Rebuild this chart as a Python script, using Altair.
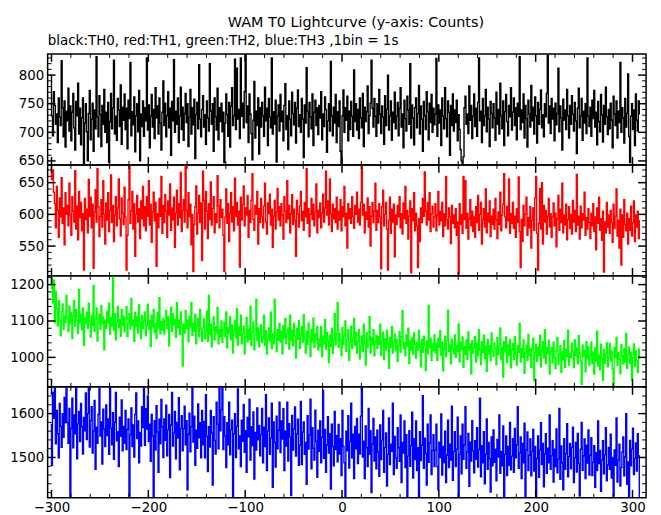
import altair as alt
import pandas as pd

# time axis (s): first bin start, 1 bin = 1 s
T_START = -301
X_DOMAIN = [-304, 314]
X_MAJOR = [-300, -200, -100, 0, 100, 200, 300]
X_MINOR = [v for v in range(-300, 301, 20) if v % 100 != 0]

TH0 = [
    800, 729, 694, 771, 747, 714, 732, 682, 760, 727, 712, 825, 743, 692, 755, 674, 737,
    720, 777, 702, 746, 685, 735, 768, 708, 669, 754, 729, 786, 697, 742, 678, 725, 760, 646, 716, 750,
    701, 650, 733, 773, 687, 723, 751, 667, 739, 706, 832, 727, 692, 764, 731, 675, 747, 714, 775, 700,
    735, 682, 752, 647, 719, 768, 706, 743, 826, 697, 728, 686, 759, 739, 710, 783, 679, 744, 721, 767,
    705, 742, 671, 756, 724, 822, 694, 736, 713, 762, 666, 729, 750, 701, 773, 650, 732, 710, 755, 693,
    743, 720, 830, 704, 748, 673, 728, 766, 709, 740, 689, 778, 725, 746, 697, 760, 716, 669, 735, 790,
    712, 751, 692, 729, 771, 708, 742, 660, 754, 720, 827, 700, 737, 714, 760, 682, 729, 779, 705, 744,
    686, 733, 768, 717, 750, 675, 727, 775, 697, 743, 713, 758, 654, 731, 752, 706, 818, 723, 692, 740,
    764, 709, 731, 679, 755, 725, 702, 820, 737, 714, 750, 667, 760, 727, 704, 777, 687, 743, 719, 751,
    701, 735, 647, 716, 767, 731, 693, 752, 674, 746, 778, 712, 729, 828, 705, 812, 723, 740, 689, 830,
    728, 751, 708, 771, 837, 717, 746, 682, 767, 732, 698, 652, 721, 789, 690, 737, 712, 760, 662, 743,
    709, 752, 729, 693, 779, 720, 742, 677, 759, 727, 708, 830, 697, 736, 714, 756, 648, 728, 748, 702,
    766, 719, 737, 685, 747, 785, 705, 729, 670, 755, 723, 694, 770, 733, 713, 752, 681, 742, 774, 710,
    731, 700, 759, 723, 656, 748, 716, 813, 737, 692, 752, 727, 706, 767, 677, 735, 756, 712, 743, 696,
    747, 725, 771, 687, 732, 710, 762, 740, 665, 720, 750, 702, 824, 728, 694, 744, 716, 766, 682, 736,
    710, 755, 667, 645, 729, 774, 700, 743, 721, 763, 685, 737, 705, 754, 728, 693, 809, 719, 750, 704,
    740, 689, 760, 725, 708, 768, 675, 744, 719, 736, 781, 698, 729, 751, 826, 742, 709, 759, 728, 693,
    750, 716, 775, 732, 698, 746, 727, 679, 764, 712, 740, 800, 704, 729, 755, 686, 735, 717, 770, 706,
    728, 752, 694, 742, 778, 709, 732, 673, 756, 724, 702, 763, 739, 714, 820, 690, 748, 725, 678, 743,
    760, 708, 733, 782, 697, 746, 723, 667, 754, 729, 705, 771, 736, 687, 751, 717, 766, 700, 742, 713,
    732, 829, 693, 748, 716, 739, 677, 760, 728, 706, 778, 724, 692, 755, 735, 660, 747, 712, 767, 702,
    739, 717, 756, 685, 731, 705, 670, 650, 644, 657, 743, 763, 714, 732, 698, 781, 721, 747, 689, 728,
    767, 710, 742, 693, 752, 830, 720, 737, 682, 759, 712, 729, 775, 701, 744, 723, 675, 754, 733, 708,
    750, 725, 686, 770, 714, 740, 697, 786, 729, 706, 755, 677, 736, 766, 719, 694, 747, 727, 778, 704,
    735, 760, 712, 743, 687, 751, 728, 832, 705, 739, 717, 767, 690, 747, 724, 674, 756, 732, 709, 782,
    720, 744, 697, 762, 729, 681, 752, 714, 740, 774, 708, 731, 692, 750, 727, 768, 835, 716, 746, 698,
    759, 723, 742, 685, 751, 713, 733, 812, 701, 746, 725, 669, 758, 721, 739, 705, 775, 729, 690, 747,
    714, 764, 732, 702, 752, 720, 663, 742, 777, 708, 729, 759, 686, 737, 716, 750, 698, 830, 728, 710,
    744, 693, 756, 724, 773, 709, 735, 678, 754, 719, 701, 766, 731, 683, 747, 714, 779, 727, 696, 740,
    706, 751, 721, 673, 763, 732, 712, 755, 690, 737, 717, 822, 700, 743, 725, 681, 759, 709, 733, 802,
    693, 647, 728, 750, 705, 739, 677, 767, 721, 702, 755, 731,
]

TH1 = [
    678, 655, 670, 635, 617, 579, 644, 606, 564, 626, 596, 658, 586, 610, 552, 634, 600,
    614, 582, 649, 599, 567, 628, 605, 588, 669, 577, 613, 560, 636, 595, 619, 574, 601, 512, 625, 592,
    608, 571, 655, 597, 627, 579, 616, 515, 604, 639, 588, 672, 612, 565, 596, 623, 580, 653, 600, 553,
    618, 591, 634, 573, 606, 662, 587, 614, 557, 599, 628, 582, 610, 656, 593, 566, 626, 602, 584, 643,
    596, 512, 567, 623, 675, 586, 605, 636, 577, 617, 534, 600, 630, 588, 609, 562, 621, 593, 644, 582,
    612, 574, 628, 597, 653, 583, 616, 556, 604, 635, 590, 619, 518, 601, 579, 625, 597, 660, 570, 614,
    587, 631, 605, 564, 621, 599, 648, 575, 610, 591, 627, 548, 602, 638, 583, 617, 595, 666, 573, 606,
    623, 588, 677, 606, 579, 634, 596, 616, 552, 600, 510, 584, 612, 645, 569, 602, 630, 587, 618, 527,
    668, 621, 577, 636, 605, 562, 617, 592, 651, 583, 609, 628, 571, 601, 587, 661, 613, 579, 623, 595,
    608, 567, 510, 596, 640, 586, 617, 557, 602, 634, 588, 612, 574, 657, 597, 619, 583, 605, 517, 627,
    591, 616, 645, 582, 610, 599, 630, 564, 606, 587, 622, 664, 592, 575, 614, 600, 636, 553, 609, 587,
    625, 596, 579, 613, 649, 588, 569, 618, 601, 632, 583, 608, 548, 597, 622, 577, 604, 641, 591, 612,
    582, 617, 599, 561, 628, 605, 587, 653, 593, 614, 571, 601, 631, 584, 608, 591, 534, 622, 600, 580,
    613, 636, 590, 605, 575, 619, 596, 672, 586, 609, 565, 600, 625, 592, 616, 582, 604, 648, 571, 606,
    595, 618, 579, 602, 632, 588, 610, 668, 599, 621, 583, 656, 601, 573, 616, 593, 609, 587, 627, 577,
    605, 591, 623, 574, 612, 596, 644, 582, 602, 547, 617, 593, 609, 586, 628, 597, 578, 614, 600, 635,
    588, 608, 583, 619, 676, 599, 616, 571, 604, 592, 626, 580, 612, 550, 597, 619, 587, 605, 649, 575,
    606, 587, 617, 596, 514, 612, 638, 582, 600, 619, 577, 512, 591, 627, 570, 608, 588, 616, 533, 599,
    584, 614, 596, 628, 579, 601, 569, 618, 593, 644, 586, 606, 561, 597, 621, 508, 609, 590, 634, 574,
    602, 582, 516, 593, 557, 610, 587, 625, 597, 667, 605, 583, 619, 591, 634, 573, 601, 613, 580, 596,
    617, 574, 599, 636, 583, 605, 590, 619, 565, 601, 582, 660, 592, 577, 610, 596, 554, 614, 586, 599,
    579, 609, 567, 588, 503, 617, 584, 600, 570, 660, 592, 653, 578, 602, 561, 593, 623, 582, 605, 573,
    596, 564, 612, 587, 630, 575, 600, 619, 553, 592, 609, 580, 640, 571, 602, 588, 621, 565, 597, 584,
    608, 577, 625, 592, 562, 604, 584, 635, 574, 599, 616, 664, 596, 579, 613, 590, 656, 570, 601, 586,
    619, 578, 597, 564, 609, 587, 659, 573, 516, 592, 557, 614, 582, 600, 627, 567, 595, 579, 612, 547,
    591, 610, 575, 626, 660, 570, 512, 586, 641, 577, 650, 553, 614, 588, 606, 569, 597, 625, 580, 601,
    564, 596, 618, 582, 602, 549, 593, 630, 575, 608, 587, 649, 571, 599, 583, 616, 560, 592, 612, 578,
    600, 569, 622, 588, 606, 573, 663, 583, 597, 561, 613, 579, 601, 591, 635, 567, 595, 577, 609, 587,
    562, 602, 582, 617, 573, 596, 544, 610, 586, 627, 575, 593, 559, 605, 509, 588, 571, 619, 580, 599,
    570, 606, 587, 556, 616, 578, 597, 640, 566, 591, 547, 608, 520, 599, 564, 623, 584, 574, 602, 553,
    593, 575, 613, 566, 587, 621, 557, 599, 580, 605, 562, 591,
]

TH2 = [
    1190, 1224, 1150, 1212, 1096, 1181, 1134, 1087, 1156, 1102, 1059, 1125, 1147, 1077, 1113, 1096, 1170,
    1108, 1071, 1141, 1093, 1123, 1052, 1113, 1156, 1085, 1132, 1102, 1066, 1187, 1096, 1118, 1076, 1136, 1033, 1109, 1092,
    1124, 1080, 1149, 1099, 1056, 1115, 1088, 1198, 1072, 1105, 1136, 1045, 1096, 1119, 1077, 1142, 1093, 1111, 1021, 1102,
    1079, 1126, 1094, 1149, 1064, 1109, 1086, 1220, 1075, 1120, 1048, 1097, 1140, 1082, 1104, 1058, 1131, 1088, 1113, 1070,
    1107, 1139, 1057, 1093, 1120, 1078, 1162, 1088, 1102, 1044, 1124, 1084, 1111, 1067, 1144, 1096, 1052, 1115, 1079, 1100,
    1125, 1059, 1088, 1146, 1077, 1102, 1030, 1115, 1085, 1132, 1068, 1093, 1052, 1123, 1081, 1164, 1064, 1099, 1076, 1108,
    1065, 1100, 1128, 1080, 1112, 1032, 1094, 1138, 1072, 1121, 1089, 1104, 1055, 1150, 1082, 1103, 1063, 1125, 1093, 976,
    1091, 1066, 1128, 1080, 1102, 1043, 1112, 1083, 1150, 1061, 1094, 1072, 1119, 1037, 1087, 1107, 1057, 1132, 1077, 1044,
    1081, 1106, 1051, 1071, 1126, 1044, 1170, 1062, 1092, 1029, 1076, 1111, 1048, 1084, 1067, 1137, 1037, 1077, 1057, 1100,
    1041, 1077, 1096, 1056, 1125, 1026, 1081, 1067, 1111, 1048, 1089, 1012, 1072, 1102, 1054, 1134, 1034, 1083, 1061, 1116,
    1037, 1065, 1086, 1010, 1056, 1110, 1042, 1077, 1050, 1141, 1033, 1069, 1097, 1021, 1062, 1160, 1046, 1081, 1029, 1067,
    1089, 1041, 1056, 1116, 1033, 1073, 1009, 1052, 1081, 1045, 1124, 1024, 1065, 1038, 1160, 1059, 1016, 1076, 1047, 1093,
    1042, 1072, 1010, 1088, 1054, 1107, 1037, 1066, 1081, 1023, 1116, 1047, 1073, 1032, 1093, 1059, 998, 1079, 1050, 1101,
    1025, 1062, 1084, 1041, 1117, 1050, 1012, 1072, 1036, 1094, 1055, 1002, 1077, 1043, 1108, 1028, 1065, 1049, 1085, 1021,
    1051, 1029, 1084, 1002, 1059, 1037, 1104, 1022, 1068, 1045, 986, 1061, 1030, 1080, 1011, 1050, 1121, 1034, 1065, 1150,
    1028, 1065, 1047, 1005, 1082, 1035, 1059, 1100, 1017, 1051, 1076, 992, 1041, 1086, 1024, 1055, 1107, 1033, 1069, 1012,
    1044, 1077, 996, 1033, 1059, 1017, 1091, 1038, 979, 1068, 1026, 1048, 1112, 1012, 1055, 1034, 1076, 1004, 1042, 1061,
    1025, 1057, 1035, 1091, 1005, 1046, 1069, 995, 1051, 1021, 1075, 1036, 970, 1055, 1027, 1085, 1012, 1042, 1064, 1018,
    1049, 989, 1033, 1071, 1014, 1057, 1128, 1024, 1041, 1004, 1062, 1031, 1080, 983, 1045, 1020, 1053, 1009, 1067, 1036,
    998, 1041, 1020, 1074, 1028, 974, 1049, 1014, 1058, 1033, 964, 1045, 1010, 1143, 1026, 1053, 992, 1037, 1018, 1062,
    1012, 1038, 991, 1052, 1028, 1073, 1006, 1042, 963, 1023, 1058, 1002, 1046, 1130, 1017, 1034, 982, 1050, 1025, 1010,
    1062, 1000, 1033, 1017, 1092, 988, 1042, 1022, 1056, 973, 1030, 1008, 1048, 995, 1070, 1020, 1036, 955, 1046, 1012,
    1028, 1057, 987, 1039, 1005, 1076, 1020, 980, 1043, 1014, 1061, 996, 1031, 962, 1049, 1010, 1033, 991, 1067, 1018,
    1003, 1040, 1024, 980, 1054, 1008, 1032, 1081, 994, 1027, 946, 1043, 1015, 1056, 986, 1034, 1006, 1049, 971, 1021,
    1038, 995, 1057, 1009, 979, 1033, 1014, 1094, 987, 1024, 1000, 1048, 956, 1012, 1034, 991, 1063, 1005, 1025, 972,
    1022, 1052, 936, 1013, 1036, 989, 1028, 1005, 1061, 974, 1019, 1043, 998, 1076, 983, 1027, 1010, 1047, 954, 1017,
    1027, 985, 1042, 999, 969, 1018, 1055, 981, 1008, 1032, 959, 1015, 993, 1046, 973, 1023, 1002, 1075, 979, 1011,
    999, 1039, 1016, 972, 1048, 1005, 1026, 982, 1060, 1011, 990, 926, 1034, 1002, 1020, 960, 1043, 996, 1029, 978,
    1005, 1042, 983, 1014, 954, 1026, 990, 1072, 976, 1007, 966, 1036, 997, 937, 1022, 984, 1011, 1040, 974, 1001,
    1038, 990, 1018, 968, 919, 1027, 999, 1055, 978, 1013, 995, 955, 1035, 1004, 982, 1024, 988, 1066, 970, 1008,
    1028, 983, 1014, 938, 999, 1037, 975, 1018, 990, 959, 1023, 996,
]

TH3 = [
    1575, 1482, 1648, 1589, 1660, 1531, 1607, 1554, 1499, 1623, 1571, 1523, 1600, 1546, 1637, 1579, 1661,
    1580, 1532, 1612, 1408, 1566, 1635, 1522, 1597, 1554, 1660, 1497, 1577, 1605, 1536, 1623, 1570, 1508, 1591, 1561, 1647,
    1541, 1600, 1661, 1524, 1584, 1616, 1510, 1560, 1630, 1473, 1569, 1532, 1598, 1658, 1549, 1581, 1485, 1610, 1565, 1525,
    1620, 1550, 1588, 1507, 1661, 1567, 1529, 1602, 1496, 1580, 1648, 1538, 1559, 1479, 1592, 1548, 1631, 1515, 1571, 1532,
    1607, 1518, 1564, 1588, 1412, 1552, 1613, 1525, 1574, 1501, 1598, 1647, 1543, 1583, 1488, 1557, 1526, 1616, 1568, 1661,
    1528, 1611, 1565, 1640, 1536, 1576, 1491, 1598, 1549, 1408, 1584, 1517, 1618, 1558, 1466, 1587, 1531, 1632, 1570, 1500,
    1588, 1539, 1619, 1504, 1563, 1598, 1454, 1574, 1648, 1526, 1556, 1605, 1497, 1580, 1544, 1636, 1472, 1566, 1595, 1515,
    1566, 1617, 1529, 1584, 1426, 1553, 1601, 1513, 1570, 1660, 1535, 1594, 1482, 1562, 1521, 1622, 1545, 1579, 1499, 1607,
    1529, 1582, 1499, 1643, 1548, 1468, 1570, 1524, 1607, 1556, 1437, 1593, 1539, 1508, 1626, 1576, 1520, 1661, 1561, 1609,
    1661, 1518, 1593, 1549, 1477, 1579, 1529, 1626, 1506, 1563, 1585, 1410, 1554, 1600, 1500, 1571, 1656, 1520, 1549, 1479,
    1585, 1537, 1621, 1512, 1561, 1466, 1591, 1547, 1633, 1494, 1570, 1527, 1604, 1451, 1557, 1517, 1613, 1540, 1573, 1504,
    1552, 1612, 1488, 1569, 1525, 1643, 1470, 1560, 1590, 1507, 1544, 1624, 1432, 1581, 1534, 1478, 1594, 1520, 1562, 1626,
    1511, 1583, 1542, 1611, 1470, 1560, 1526, 1626, 1492, 1577, 1547, 1413, 1596, 1517, 1565, 1615, 1503, 1554, 1587, 1482,
    1528, 1628, 1484, 1558, 1581, 1507, 1534, 1439, 1595, 1519, 1551, 1633, 1474, 1568, 1521, 1494, 1608, 1537, 1455, 1562,
    1514, 1583, 1488, 1546, 1653, 1498, 1564, 1466, 1529, 1593, 1510, 1554, 1428, 1576, 1525, 1481, 1605, 1518, 1550, 1490,
    1575, 1508, 1543, 1459, 1607, 1525, 1488, 1408, 1560, 1515, 1595, 1476, 1536, 1624, 1499, 1553, 1452, 1571, 1520, 1589,
    1486, 1553, 1508, 1594, 1661, 1501, 1537, 1452, 1572, 1522, 1479, 1612, 1507, 1561, 1420, 1530, 1589, 1492, 1547, 1474,
    1562, 1512, 1457, 1574, 1495, 1539, 1607, 1466, 1523, 1556, 1435, 1507, 1590, 1484, 1530, 1514, 1624, 1461, 1548, 1499,
    1475, 1568, 1522, 1491, 1597, 1443, 1534, 1510, 1583, 1477, 1552, 1411, 1503, 1561, 1480, 1527, 1603, 1453, 1543, 1495,
    1583, 1470, 1522, 1408, 1559, 1493, 1528, 1641, 1475, 1544, 1509, 1437, 1576, 1489, 1533, 1597, 1461, 1516, 1552, 1479,
    1517, 1576, 1479, 1426, 1535, 1500, 1599, 1460, 1525, 1488, 1560, 1443, 1505, 1585, 1477, 1530, 1494, 1617, 1448, 1514,
    1559, 1479, 1519, 1592, 1408, 1507, 1549, 1463, 1576, 1496, 1529, 1616, 1475, 1512, 1555, 1434, 1535, 1492, 1584, 1515,
    1465, 1538, 1496, 1568, 1478, 1518, 1635, 1456, 1527, 1488, 1559, 1440, 1507, 1588, 1473, 1534, 1497, 1421, 1547, 1481,
    1563, 1489, 1519, 1447, 1541, 1501, 1597, 1464, 1514, 1481, 1572, 1410, 1507, 1549, 1459, 1525, 1482, 1580, 1472, 1503,
    1543, 1466, 1566, 1499, 1529, 1616, 1475, 1510, 1547, 1452, 1532, 1488, 1578, 1408, 1517, 1558, 1470, 1505, 1542, 1458,
    1514, 1564, 1469, 1525, 1408, 1498, 1549, 1455, 1517, 1579, 1484, 1532, 1433, 1508, 1554, 1464, 1521, 1488, 1597, 1473,
    1504, 1538, 1444, 1519, 1479, 1565, 1465, 1496, 1612, 1450, 1526, 1488, 1426, 1543, 1473, 1509, 1577, 1456, 1502, 1532,
    1474, 1523, 1569, 1443, 1499, 1534, 1467, 1555, 1486, 1412, 1519, 1580, 1471, 1504, 1542, 1452, 1528, 1487, 1563, 1460,
    1505, 1545, 1459, 1489, 1527, 1432, 1511, 1470, 1583, 1486, 1516, 1423, 1494, 1538, 1463, 1506, 1568, 1447, 1483, 1523,
    1473, 1553, 1453, 1500, 1412, 1517, 1482, 1590, 1444, 1494, 1530, 1435, 1477, 1512, 1547, 1458, 1501, 1600, 1439, 1490,
    1408, 1539, 1481, 1519, 1567, 1461, 1498, 1533, 1469, 1554, 1504, 1409,
]

# panel settings: series, colour, y range, labelled ticks, minor tick step
PANELS = [
    (TH0, "#000000", [643, 837], [650, 700, 750, 800], 10),
    (TH1, "#ff0000", [503, 678], [550, 600, 650], 10),
    (TH2, "#00ff00", [919, 1224], [1000, 1100, 1200], 20),
    (TH3, "#0000ff", [1408, 1661], [1500, 1600], 20),
]

W, H = 604, 112
FONT = "DejaVu Sans"
LABEL_SIZE = 13.5
MAJOR_LEN, MINOR_LEN = 8, 4


def tick_rules(vals, channel, scale, axis, side, length, width):
    df = pd.DataFrame({"v": vals})
    base = alt.Chart(df).mark_rule(color="black", strokeWidth=width)
    if channel == "y":
        enc = {"y": alt.Y("v:Q", scale=scale, axis=axis, title=None)}
        if side == "left":
            enc.update(x=alt.value(0), x2=alt.value(length))
        else:
            enc.update(x=alt.value(W), x2=alt.value(W - length))
    else:
        enc = {"x": alt.X("v:Q", scale=scale, axis=axis, title=None)}
        if side == "top":
            enc.update(y=alt.value(0), y2=alt.value(length))
        else:
            enc.update(y=alt.value(H), y2=alt.value(H - length))
    return base.encode(**enc)


def make_panel(vals, color, ydom, ymajor, ystep, last, title=None):
    df = pd.DataFrame({"t": [T_START + i for i in range(len(vals))], "c": vals})
    xs = alt.Scale(domain=X_DOMAIN, nice=False, zero=False)
    ys = alt.Scale(domain=ydom, nice=False, zero=False)
    if last:
        xaxis = alt.Axis(values=X_MAJOR, tickSize=0, domain=False, grid=False,
                         labelPadding=3, labelFont=FONT, labelFontSize=LABEL_SIZE,
                         labelColor="black", labelFlush=False, labelOverlap=False,
                         title=None, format="d")
    else:
        xaxis = None
    yaxis = alt.Axis(values=ymajor, tickSize=0, domain=False, grid=False,
                     labelPadding=4, labelFont=FONT, labelFontSize=LABEL_SIZE,
                     labelColor="black", labelOverlap=False, labelFlush=False,
                     title=None, format="d")
    line = alt.Chart(df).mark_line(interpolate="step-after", color=color,
                                   strokeWidth=1.4, clip=True).encode(
        x=alt.X("t:Q", scale=xs, axis=xaxis, title=None),
        y=alt.Y("c:Q", scale=ys, axis=yaxis, title=None),
    )
    start = -(-ydom[0] // ystep) * ystep
    yminor = [v for v in range(start, ydom[1] + 1, ystep) if v not in ymajor]
    layers = [line]
    for side in ("left", "right"):
        layers.append(tick_rules(ymajor, "y", ys, yaxis, side, MAJOR_LEN, 1.5))
        layers.append(tick_rules(yminor, "y", ys, yaxis, side, MINOR_LEN, 1))
    for side in ("top", "bottom"):
        layers.append(tick_rules(X_MAJOR, "x", xs, xaxis, side, MAJOR_LEN, 1.5))
        layers.append(tick_rules(X_MINOR, "x", xs, xaxis, side, MINOR_LEN, 1))
    props = dict(width=W, height=H)
    if title is not None:
        props["title"] = title
    return alt.layer(*layers).properties(**props)


subtitle = alt.TitleParams(
    "black:TH0, red:TH1, green:TH2, blue:TH3 ,1bin = 1s",
    anchor="start", frame="group", font=FONT, fontSize=13.6,
    fontWeight="normal", color="black", offset=6,
)

panels = []
for i, (vals, color, ydom, ymajor, ystep) in enumerate(PANELS):
    panels.append(make_panel(vals, color, ydom, ymajor, ystep,
                             last=(i == len(PANELS) - 1),
                             title=subtitle if i == 0 else None))

chart = alt.vconcat(*panels, spacing=0, bounds="flush").properties(
    title=alt.TitleParams(
        "WAM T0 Lightcurve (y-axis: Counts)", anchor="middle", dx=28,
        font=FONT, fontSize=14.5, fontWeight="normal", color="black", offset=3,
    ),
    padding={"left": 0, "top": 4, "right": 5, "bottom": 0},
).configure_view(stroke="black", strokeWidth=1.5)

chart.save("out.html", embed_options={"renderer": "svg", "actions": False})
